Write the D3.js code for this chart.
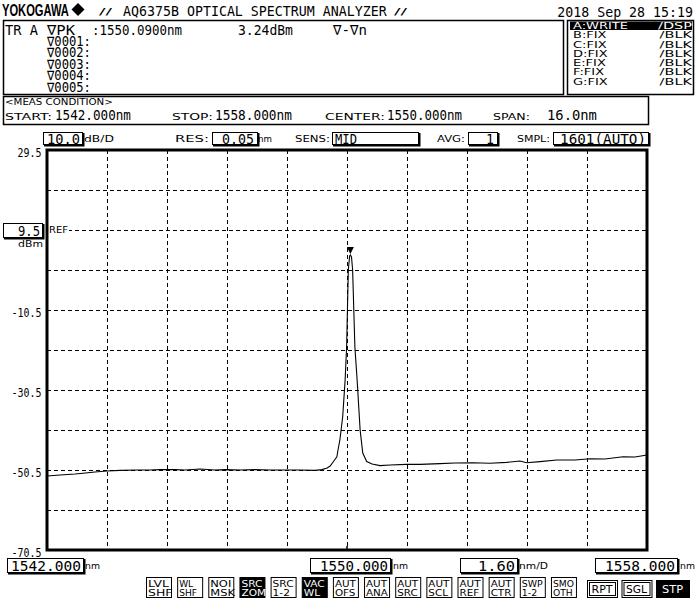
<!DOCTYPE html>
<html><head><meta charset="utf-8">
<script src="https://cdn.jsdelivr.net/npm/d3@7"></script>
<style>html,body{margin:0;padding:0;background:#fff}svg{display:block}</style>
</head><body>
<svg id="c" width="700" height="600"></svg>
<script>
// ---------- data ----------
const wavelengthNm = [1542.00,1542.35,1542.75,1542.96,1543.28,1543.60,1543.95,1544.40,1544.75,1545.01,1545.41,1545.68,1546.08,1546.48,1546.75,1547.15,1547.55,1547.95,1548.35,1548.75,1549.15,1549.33,1549.47,1549.55,1549.63,1549.73,1549.76,1549.81,1549.885,1549.95,1549.99,1550.035,1550.07,1550.09,1550.12,1550.15,1550.21,1550.27,1550.35,1550.42,1550.525,1550.67,1550.88,1551.15,1551.59,1551.95,1552.48,1552.88,1553.36,1553.81,1554.26,1554.61,1554.79,1555.15,1555.59,1556.08,1556.48,1556.88,1557.36,1557.68,1558.00];
const powerDbm = [-52.0,-51.75,-51.5,-51.3,-51.0,-50.75,-50.6,-50.5,-50.5,-50.4,-50.4,-50.5,-50.25,-50.5,-50.4,-50.5,-50.4,-50.5,-50.5,-50.5,-50.6,-50.4,-50.0,-49.5,-48.5,-47.2,-45.5,-43.0,-37.2,-28.0,-19.7,-0.5,3.0,3.24,2.75,-0.5,-19.7,-28.0,-40.5,-46.25,-48.4,-49.0,-49.4,-49.25,-49.1,-49.1,-48.9,-48.75,-48.7,-48.8,-48.6,-48.25,-48.7,-48.4,-48.0,-48.0,-47.7,-47.75,-47.2,-47.25,-46.75];
const peak = {wl: 1550.09, dbm: 3.24};
const xDomain = [1542, 1558];
const yDomain = [-70.5, 29.5];
const xGrid = [1543.6,1545.2,1546.8,1548.4,1550.0,1551.6,1553.2,1554.8,1556.4];
const yGrid = [19.5,9.5,-0.5,-10.5,-20.5,-30.5,-40.5,-50.5,-60.5];
const yTickLabels = ["29.5","-10.5","-30.5","-50.5","-70.5"];
const yTickValues = [29.5,-10.5,-30.5,-50.5,-70.5];
const markerLines = ["\u22070001:","\u22070002:","\u22070003:","\u22070004:","\u22070005:"];
const traceNames = ["A:WRITE","B:FIX","C:FIX","D:FIX","E:FIX","F:FIX","G:FIX"];
const traceModes = ["/DSP","/BLK","/BLK","/BLK","/BLK","/BLK","/BLK"];
const softKeys = [["LVL","SHF"],["WL","SHF"],["NOI","MSK"],["SRC","ZOM"],["SRC","1-2"],["VAC","WL"],["AUT","OFS"],["AUT","ANA"],["AUT","SRC"],["AUT","SCL"],["AUT","REF"],["AUT","CTR"],["SWP","1-2"],["SMO","OTH"]];
const softKeysOn = [false,false,false,true,false,true,false,false,false,false,false,false,false,false];
const sweepKeys = ["RPT","SGL","STP"];

// ---------- helpers ----------
const MONO = "'DejaVu Sans Mono', monospace";
const SANS = "'DejaVu Sans', sans-serif";
const svg = d3.select("#c");
function styled(sel, o) {
  return sel.attr("font-family", o.family || MONO)
    .attr("font-size", o.size || 14)
    .attr("font-weight", o.weight || "normal")
    .attr("text-anchor", o.anchor || "start")
    .attr("fill", o.fill || "#000");
}
// single text fitted to width w by a horizontal scale
function T(x, y, s, o = {}) {
  const t = styled(svg.append("text").attr("transform", `translate(${x},${y})`), o).text(s);
  if (o.w) {
    const len = t.node().getComputedTextLength();
    if (len > 0) t.attr("transform", `translate(${x},${y}) scale(${(o.w / len).toFixed(4)},1)`);
  }
  return t;
}
const S = (x, y, s, w, o = {}) => T(x, y, s, Object.assign({family: SANS, size: 9, w}, o));
// multi-line text block; w = target width of the first line
function ML(x, y, dy, lines, o = {}) {
  const t = styled(svg.append("text").attr("transform", `translate(${x},${y})`), o);
  const sp = lines.map((s, i) => {
    const ts = t.append("tspan").attr("x", 0).attr("y", i * dy).text(s);
    if (o.fills) ts.attr("fill", o.fills[i]);
    return ts;
  });
  if (o.w) {
    const len = sp[0].node().getComputedTextLength();
    if (len > 0) t.attr("transform", `translate(${x},${y}) scale(${(o.w / len).toFixed(4)},1)`);
  }
  return t;
}
function box(x0, y0, x1, y1, sw = 1, shadow = false) {
  svg.append("rect").attr("x", x0 + 0.5).attr("y", y0 + 0.5)
    .attr("width", x1 - x0).attr("height", y1 - y0)
    .attr("fill", "none").attr("stroke", "#000").attr("stroke-width", sw);
  if (shadow) {
    svg.append("path").attr("d", `M${x1+1.5},${y0+1} V${y1+1.5} H${x0+1}`)
      .attr("fill", "none").attr("stroke", "#000").attr("stroke-width", 2);
  }
}

// ---------- header ----------
T(2, 15.5, "YOKOGAWA", {family: "'Liberation Sans', Arial, sans-serif", size: 16, weight: "bold", w: 67});
svg.append("path").attr("d", "M78,3 L84.5,9.5 L78,16 L71.5,9.5 Z").attr("fill", "#000");
S(99, 15, "//", 13, {size: 9});
T(123, 16, "AQ6375B OPTICAL SPECTRUM ANALYZER", {size: 14.5, w: 264});
S(394, 15, "//", 13, {size: 9});
T(693, 16.5, "2018 Sep 28 15:19", {size: 14, w: 136, anchor: "end"});

// marker box
box(3, 20, 563, 94, 1.5);
T(5, 34.5, "TR A", {size: 14, w: 33});
T(47, 34.5, "\u2207PK", {size: 14, w: 28});
ML(47, 46, 11.45, markerLines, {size: 13.5, w: 44});
T(92, 34.5, ":1550.0900nm", {size: 14, w: 90});
T(238, 34.5, "3.24dBm", {size: 14, w: 55});
T(333, 34.5, "\u2207-\u2207n", {size: 14, w: 34});

// trace list box
box(567, 20, 693, 94, 1.5);
svg.append("rect").attr("x", 570).attr("y", 21.5).attr("width", 122).attr("height", 8.5).attr("fill", "#000");
const rowFills = traceNames.map((d, i) => i === 0 ? "#fff" : "#000");
ML(573, 29, 9.3, traceNames, {family: SANS, size: 9.5, w: 55, fills: rowFills});
ML(692, 29, 9.3, traceModes, {family: SANS, size: 9.5, w: 34, anchor: "end", fills: rowFills});

// meas condition box
box(3, 96, 648, 124, 1.5);
S(5, 105, "<MEAS CONDITION>", 108);
S(5, 120, "START:", 47);
T(55, 120, "1542.000nm", {size: 14.5, w: 76});
S(172, 120, "STOP:", 41);
T(215, 120, "1558.000nm", {size: 14.5, w: 77});
S(325, 120, "CENTER:", 60);
T(387, 120, "1550.000nm", {size: 14.5, w: 75});
S(493, 120, "SPAN:", 37);
T(547, 120, "16.0nm", {size: 14.5, w: 50});

// settings row
box(43, 132, 82, 144, 1, true);
T(80, 143.5, "10.0", {size: 14, w: 33, anchor: "end"});
S(84, 142, "dB/D", 30);
S(175, 142, "RES:", 34);
box(212, 132, 257, 144, 1, true);
T(254, 143.5, "0.05", {size: 14, w: 32, anchor: "end"});
S(258, 142, "nm", 14);
S(295, 142, "SENS:", 35);
box(332, 132, 418, 144, 1, true);
T(335, 143.5, "MID", {size: 14, w: 22});
S(437, 142, "AVG:", 28);
box(468, 132, 497, 144, 1, true);
T(494, 143.5, "1", {size: 14, w: 8, anchor: "end"});
S(517, 142, "SMPL:", 33);
box(553, 132, 648, 144, 1, true);
T(646, 143.5, "1601(AUTO)", {size: 14, w: 86, anchor: "end"});

// ---------- plot ----------
const x = d3.scaleLinear().domain(xDomain).range([47, 647]);
const y = d3.scaleLinear().domain(yDomain).range([550, 150]);

const grid = svg.append("g").attr("stroke", "#000").attr("stroke-width", 1).attr("stroke-dasharray", "4,3");
grid.selectAll(".v").data(xGrid).join("line")
  .attr("x1", d => Math.round(x(d)) + 0.5).attr("x2", d => Math.round(x(d)) + 0.5)
  .attr("y1", y(yDomain[1])).attr("y2", y(yDomain[0]));
grid.selectAll(".h").data(yGrid).join("line")
  .attr("y1", d => Math.round(y(d)) + 0.5).attr("y2", d => Math.round(y(d)) + 0.5)
  .attr("x1", x(xDomain[0])).attr("x2", x(xDomain[1]));

// REF label on the reference line
svg.append("rect").attr("x", 48).attr("y", 225).attr("width", 21).attr("height", 9).attr("fill", "#fff");
S(49, 233, "REF", 19);

// frame
svg.append("rect").attr("x", x(xDomain[0])).attr("y", y(yDomain[1]))
  .attr("width", x(xDomain[1]) - x(xDomain[0])).attr("height", y(yDomain[0]) - y(yDomain[1]))
  .attr("fill", "none").attr("stroke", "#000").attr("stroke-width", 3);
svg.append("line").attr("x1", x(1550)).attr("x2", x(1550)).attr("y1", y(yDomain[0]) - 4).attr("y2", y(yDomain[0]))
  .attr("stroke", "#000").attr("stroke-width", 1.5);

// y labels
yTickValues.forEach((v, i) => T(41.5, y(v) + 7, yTickLabels[i], {size: 12.5, w: yTickLabels[i].length * 6, anchor: "end"}));
box(3, 223, 42, 237, 1, true);
T(40, 235.5, "9.5", {size: 14, w: 22, anchor: "end"});
S(43, 247, "dBm", 25, {anchor: "end"});

// trace
const pts = wavelengthNm.map((w, i) => [w, powerDbm[i]]);
svg.append("path").datum(pts)
  .attr("d", d3.line().x(d => x(d[0])).y(d => y(d[1])))
  .attr("fill", "none").attr("stroke", "#000").attr("stroke-width", 1.1);

// peak marker
const px = x(peak.wl), py = y(peak.dbm);
svg.append("path").attr("d", `M${px-3.5},${py-8} L${px+3.5},${py-8} L${px},${py-1} Z`).attr("fill", "#000");

// bottom wavelength row
box(7, 558, 83, 572, 1, true);
T(81, 570.5, "1542.000", {size: 13.5, w: 70, anchor: "end"});
S(85, 569, "nm", 15);
box(310, 558, 390, 572, 1, true);
T(388, 570.5, "1550.000", {size: 13.5, w: 68, anchor: "end"});
S(393, 569, "nm", 15);
box(460, 558, 517, 572, 1, true);
T(515, 570.5, "1.60", {size: 13.5, w: 37, anchor: "end"});
S(519, 569, "nm/D", 29);
box(595, 558, 677, 572, 1, true);
T(675, 570.5, "1558.000", {size: 13.5, w: 70, anchor: "end"});
S(680, 569, "nm", 15);

// soft keys
softKeys.forEach((k, i) => {
  const bx = 146 + i * 31.15, on = softKeysOn[i];
  svg.append("rect").attr("x", bx + 0.5).attr("y", 577.5).attr("width", 25).attr("height", 20)
    .attr("fill", on ? "#000" : "#fff").attr("stroke", "#000").attr("stroke-width", 1);
  ML(bx + 2, 587, 9, k, {family: SANS, size: 9.5, w: k[0].length * 7, fill: on ? "#fff" : "#000"});
});
sweepKeys.forEach((k, i) => {
  const bx = 587 + i * 34.5, on = i === 2;
  svg.append("rect").attr("x", bx + 0.5).attr("y", 580.5).attr("width", on ? 33 : 30).attr("height", 17)
    .attr("fill", on ? "#000" : "#fff").attr("stroke", "#000").attr("stroke-width", 1);
  if (!on) svg.append("rect").attr("x", bx + 2.5).attr("y", 582.5).attr("width", 26).attr("height", 13)
    .attr("fill", "none").attr("stroke", "#000").attr("stroke-width", 1);
  S(bx + (on ? 16.5 : 15), 593, k, 21, {size: 10, fill: on ? "#fff" : "#000", anchor: "middle"});
});
</script>
</body></html>
